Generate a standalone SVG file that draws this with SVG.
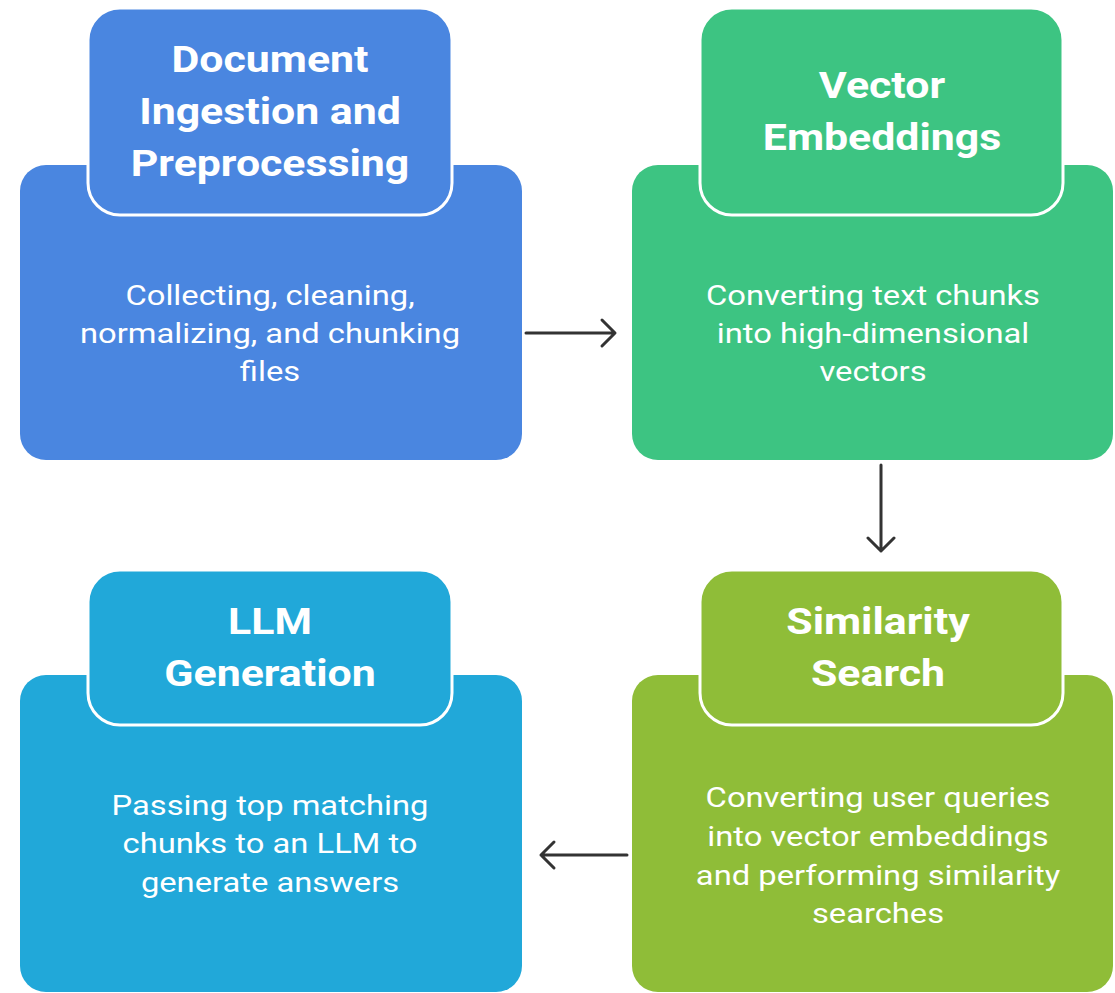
<svg xmlns="http://www.w3.org/2000/svg" width="1115" height="993" viewBox="0 0 1115 993">
<defs>
<style>
.hd{font-family:Roboto,"Liberation Sans",sans-serif;font-weight:700;font-size:36px;fill:#fff;text-anchor:middle}
.bd{font-family:Roboto,"Liberation Sans",sans-serif;font-weight:400;font-size:27.5px;fill:#fff;text-anchor:middle}
.tab{stroke:#fff;stroke-width:3}
.conn{stroke:#333;stroke-width:3;fill:none;stroke-linecap:round;stroke-linejoin:round}
</style>
</defs>
<rect width="1115" height="993" fill="#fff"/>
<g id="node-ingestion">
<rect x="20" y="165" width="502" height="295" rx="26" fill="#4A86E0"/>
<rect x="88" y="8" width="364" height="207" rx="32" fill="#4A86E0" class="tab"/>
<g transform="translate(270,0) scale(1.19,1)">
<text class="hd" x="0" y="72">Document</text>
<text class="hd" x="0" y="124">Ingestion and</text>
<text class="hd" x="0" y="176">Preprocessing</text>
<text class="bd" x="0" y="305">Collecting, cleaning,</text>
<text class="bd" x="0" y="343">normalizing, and chunking</text>
<text class="bd" x="0" y="381">files</text>
</g>
</g>
<g id="node-embeddings">
<rect x="632" y="165" width="481" height="295" rx="26" fill="#3DC482"/>
<rect x="700" y="8" width="363" height="207" rx="32" fill="#3DC482" class="tab"/>
<g transform="translate(882,0) scale(1.19,1)">
<text class="hd" x="0" y="98">Vector</text>
<text class="hd" x="0" y="150">Embeddings</text>
</g>
<g transform="translate(873,0) scale(1.19,1)">
<text class="bd" x="0" y="305">Converting text chunks</text>
<text class="bd" x="0" y="343">into high-dimensional</text>
<text class="bd" x="0" y="381">vectors</text>
</g>
</g>
<g id="node-similarity">
<rect x="632" y="675" width="481" height="317" rx="26" fill="#8FBD38"/>
<rect x="700" y="570" width="363" height="155" rx="32" fill="#8FBD38" class="tab"/>
<g transform="translate(878,0) scale(1.19,1)">
<text class="hd" x="0" y="634">Similarity</text>
<text class="hd" x="0" y="686">Search</text>
<text class="bd" x="0" y="807">Converting user queries</text>
<text class="bd" x="0" y="846">into vector embeddings</text>
<text class="bd" x="0" y="885">and performing similarity</text>
<text class="bd" x="0" y="923">searches</text>
</g>
</g>
<g id="node-generation">
<rect x="20" y="675" width="502" height="317" rx="26" fill="#21A8D9"/>
<rect x="88" y="570" width="364" height="155" rx="32" fill="#21A8D9" class="tab"/>
<g transform="translate(270,0) scale(1.19,1)">
<text class="hd" x="0" y="634">LLM</text>
<text class="hd" x="0" y="686">Generation</text>
<text class="bd" x="0" y="815">Passing top matching</text>
<text class="bd" x="0" y="853">chunks to an LLM to</text>
<text class="bd" x="0" y="892">generate answers</text>
</g>
</g>
<g id="connectors">
<path class="conn" d="M526 333 H614 M602 320 L615 333 L602 346"/>
<path class="conn" d="M881 465 V551 M868 538 L881 551 L894 538"/>
<path class="conn" d="M627 855 H541 M554 842 L541 855 L554 868"/>
</g>
</svg>
